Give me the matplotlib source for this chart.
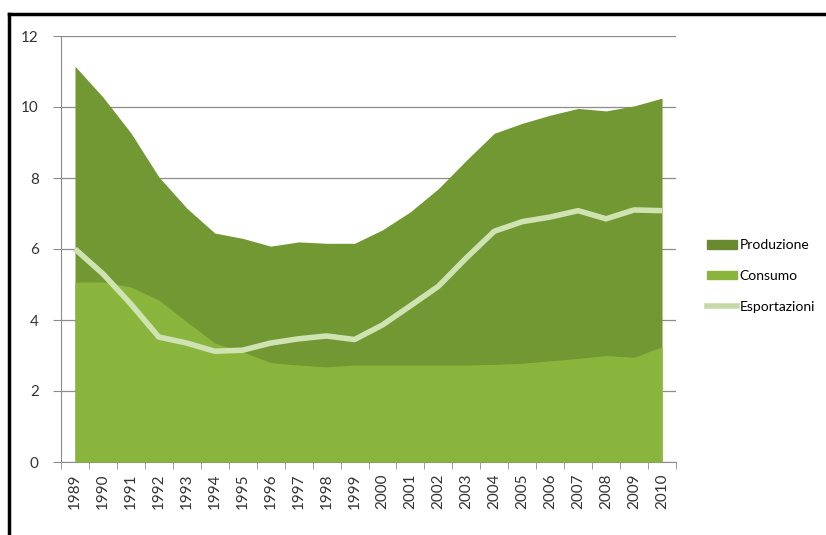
import matplotlib
matplotlib.use('Agg')
import matplotlib.pyplot as plt
import matplotlib.lines as mlines
import matplotlib.patches as mpatches
import numpy as np

years = [str(y) for y in range(1989, 2011)]
produzione = [11.15, 10.28, 9.27, 8.03, 7.15, 6.45, 6.3, 6.08, 6.2, 6.16, 6.16,
              6.54, 7.05, 7.7, 8.5, 9.26, 9.54, 9.77, 9.96, 9.89, 10.03, 10.25]
consumo = [5.07, 5.07, 4.93, 4.56, 3.95, 3.35, 3.1, 2.8, 2.73, 2.68, 2.73,
           2.73, 2.73, 2.73, 2.73, 2.75, 2.78, 2.85, 2.92, 3.0, 2.95, 3.25]
esportazioni = [6.0, 5.3, 4.45, 3.52, 3.35, 3.12, 3.15, 3.35, 3.47, 3.55, 3.45,
                3.86, 4.4, 4.95, 5.75, 6.5, 6.77, 6.9, 7.08, 6.85, 7.1, 7.08]

c_prod = '#729833'
c_cons = '#8ab53c'
c_exp = '#cfe2b2'

plt.rcParams['font.family'] = ['Lato', 'DejaVu Sans']

fig = plt.figure(figsize=(8.26, 5.35), dpi=100)
ax = fig.add_axes([61/826, 1 - 462/535, 615/826, 426/535])

x = np.arange(len(years))
ax.fill_between(x, 0, produzione, color=c_prod, lw=0, zorder=2)
ax.fill_between(x, 0, consumo, color=c_cons, lw=0, zorder=3)
ax.plot(x, esportazioni, color=c_exp, lw=4, solid_capstyle='butt', zorder=4)

ax.set_xlim(-0.5, len(years) - 0.5)
ax.set_ylim(0, 12)
ax.set_yticks(range(0, 13, 2))
ax.grid(axis='y', color='#8c8c8c', lw=0.9, zorder=1)
ax.set_axisbelow(True)

ax.set_xticks(x)
ax.set_xticklabels(years, rotation=90, fontsize=11, color='#333333')
ax.set_xticks(np.arange(-0.5, len(years)), minor=True)
ax.tick_params(axis='x', which='major', length=0, pad=8)
ax.tick_params(axis='x', which='minor', length=5, color='#8c8c8c')
ax.tick_params(axis='y', length=6, color='#8c8c8c', labelsize=11,
               labelcolor='#333333', pad=10)

for s in ['top', 'right']:
    ax.spines[s].set_visible(False)
for s in ['left', 'bottom']:
    ax.spines[s].set_color('#8c8c8c')

handles = [mpatches.Patch(color='#6a8a2f', label='Produzione'),
           mpatches.Patch(color=c_cons, label='Consumo'),
           mlines.Line2D([], [], color='#c5d9a6', lw=4, label='Esportazioni')]
fig.legend(handles=handles, loc='center left', bbox_to_anchor=(694/826, 1 - 276/535),
           frameon=False, fontsize=10, handlelength=2.2, handleheight=0.55,
           handletextpad=0.2, labelspacing=1.35)

# outer frame lines (top and left)
fig.add_artist(mlines.Line2D([9/826, 1], [1 - 14/535, 1 - 14/535], color='black', lw=2.5,
                             transform=fig.transFigure))
fig.add_artist(mlines.Line2D([9/826, 9/826], [0, 1 - 14/535], color='black', lw=2.5,
                             transform=fig.transFigure))

fig.savefig('out.png', dpi=100)
